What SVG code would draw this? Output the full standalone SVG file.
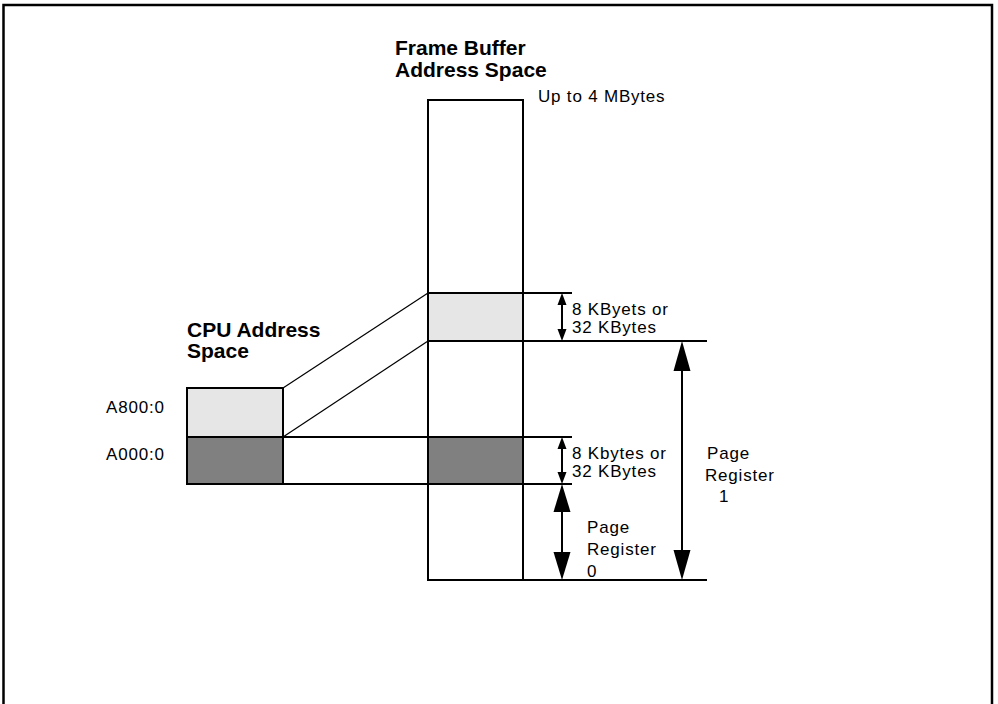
<svg xmlns="http://www.w3.org/2000/svg" width="998" height="704" viewBox="0 0 998 704">
<style>
.t{font-family:"Liberation Sans",Arial,sans-serif;font-size:17px;letter-spacing:0.8px;fill:#000}
.b{font-family:"Liberation Sans",Arial,sans-serif;font-size:21px;font-weight:bold;fill:#000}
.box{stroke:#000;stroke-width:2}
.ln{stroke:#000;stroke-width:2;fill:none}
.thin{stroke:#000;stroke-width:1.2;fill:none}
.light{fill:#e6e6e6}
.dark{fill:#808080}
.head{fill:#000}
</style>
<rect width="998" height="704" fill="#fff"/>
<path d="M3.5,704 V5 H992 V704" fill="none" stroke="#000" stroke-width="2.5"/>

<g id="frame-buffer">
  <rect class="box" x="428" y="100" width="95" height="480" fill="#fff"/>
  <rect class="box light" x="428" y="293" width="95" height="48"/>
  <rect class="box dark" x="428" y="437" width="95" height="47"/>
  <text class="b" x="395" y="55">Frame Buffer</text>
  <text class="b" x="395" y="77">Address Space</text>
  <text class="t" x="538" y="102">Up to 4 MBytes</text>
</g>

<g id="cpu-space">
  <rect class="box light" x="187" y="388" width="96" height="49"/>
  <rect class="box dark" x="187" y="437" width="96" height="47"/>
  <text class="b" x="187" y="337">CPU Address</text>
  <text class="b" x="187" y="358">Space</text>
  <text class="t" x="106" y="413">A800:0</text>
  <text class="t" x="106" y="460">A000:0</text>
</g>

<g id="labels">
  <text class="t" x="572" y="315">8 KByets or</text>
  <text class="t" x="572" y="333">32 KBytes</text>
  <text class="t" x="572" y="459">8 Kbytes or</text>
  <text class="t" x="572" y="477">32 KBytes</text>
  <text class="t" x="587" y="533">Page</text>
  <text class="t" x="587" y="555">Register</text>
  <text class="t" x="587" y="577">0</text>
  <text class="t" x="707" y="459">Page</text>
  <text class="t" x="705" y="481">Register</text>
  <text class="t" x="719" y="502">1</text>
</g>

<g id="connectors">
  <line class="ln" x1="523" y1="293" x2="572" y2="293"/>
  <line class="ln" x1="523" y1="341" x2="707" y2="341"/>
  <line class="ln" x1="283" y1="437" x2="428" y2="437"/>
  <line class="ln" x1="523" y1="437" x2="572" y2="437"/>
  <line class="ln" x1="283" y1="484" x2="428" y2="484"/>
  <line class="ln" x1="523" y1="484" x2="572" y2="484"/>
  <line class="ln" x1="523" y1="580" x2="707" y2="580"/>
  <line class="thin" x1="283" y1="388" x2="428" y2="293"/>
  <line class="thin" x1="283" y1="437" x2="428" y2="341"/>

  <line class="ln" x1="562" y1="304" x2="562" y2="330"/>
  <polygon class="head" points="562,293 557.5,305 566.5,305"/>
  <polygon class="head" points="562,341 557.5,329 566.5,329"/>

  <line class="ln" x1="562" y1="448" x2="562" y2="473"/>
  <polygon class="head" points="562,437 557.5,449 566.5,449"/>
  <polygon class="head" points="562,484 557.5,472 566.5,472"/>

  <line class="ln" x1="562" y1="510" x2="562" y2="554"/>
  <polygon class="head" points="562,484 553.5,512 570.5,512"/>
  <polygon class="head" points="562,580 553.5,552 570.5,552"/>

  <line class="ln" x1="682" y1="369" x2="682" y2="552"/>
  <polygon class="head" points="682,341 673.5,371 690.5,371"/>
  <polygon class="head" points="682,580 673.5,550 690.5,550"/>
</g>
</svg>
